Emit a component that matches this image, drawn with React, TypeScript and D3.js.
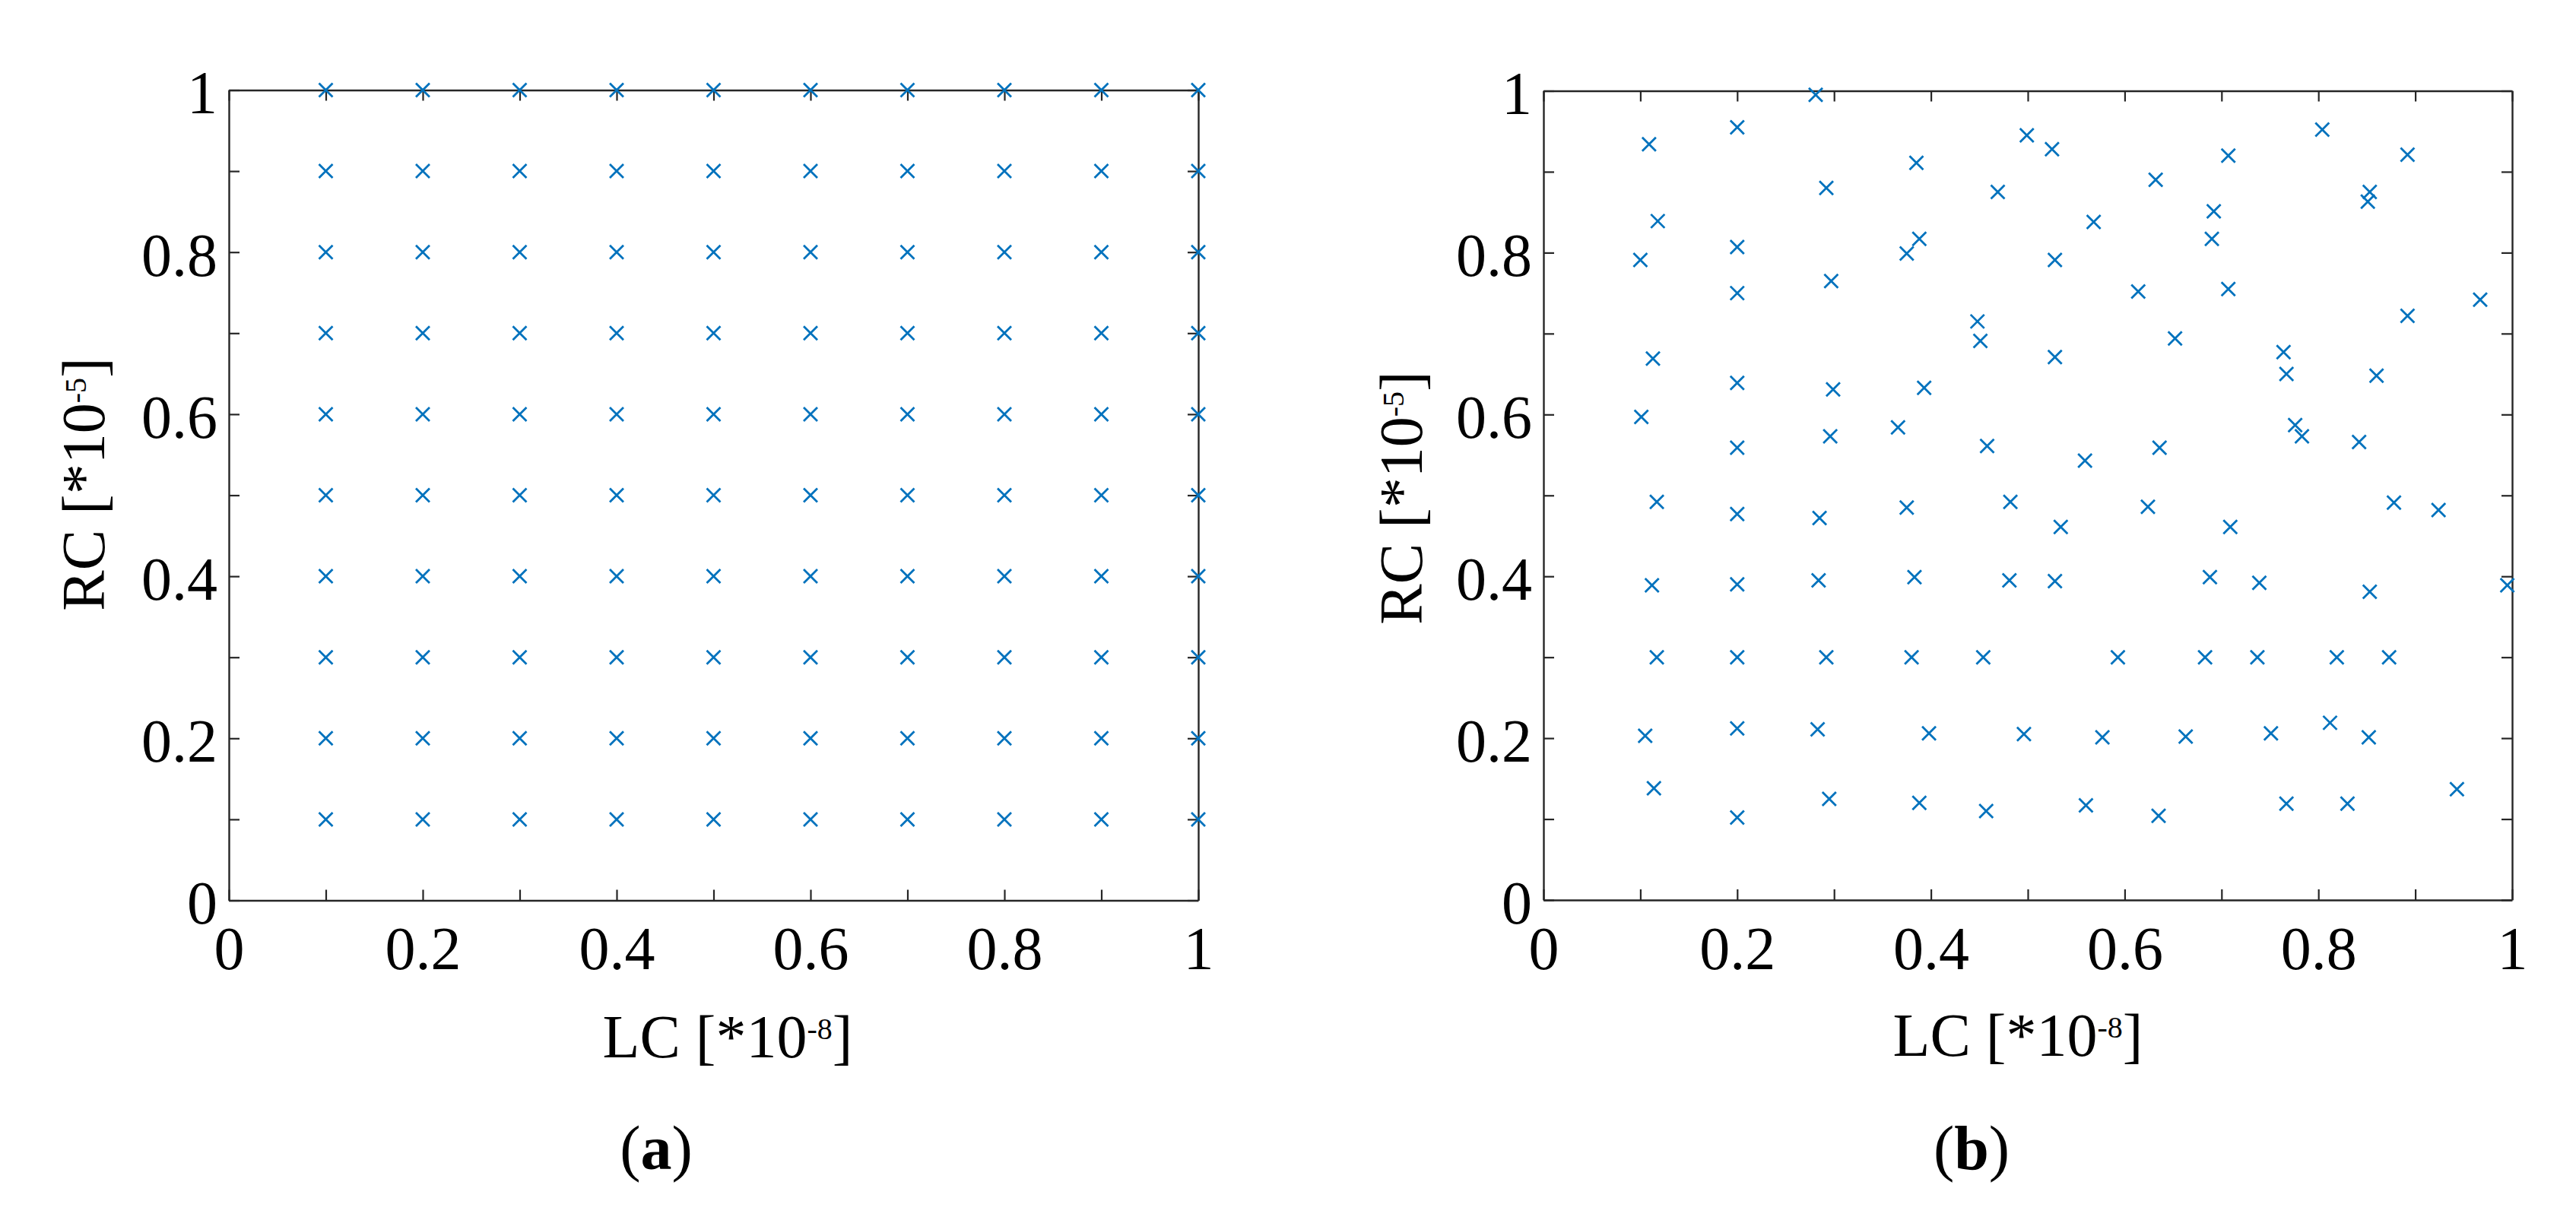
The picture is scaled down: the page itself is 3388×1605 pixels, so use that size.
import React, { useEffect, useRef } from "react"
import * as d3 from "d3"

// panel (a): full factorial grid
const gridLC = [0.1, 0.2, 0.3, 0.4, 0.5, 0.6, 0.7, 0.8, 0.9, 1.0]
const gridRC = [0.1, 0.2, 0.3, 0.4, 0.5, 0.6, 0.7, 0.8, 0.9, 1.0]

// panel (b): scattered samples
const randLC = [
  0.109, 0.2, 0.281, 0.385, 0.292, 0.469, 0.118, 0.2, 0.388, 0.375,
  0.100, 0.2, 0.297, 0.448, 0.451, 0.113, 0.2, 0.299, 0.393, 0.101,
  0.366, 0.296, 0.2, 0.458,
  0.499, 0.525, 0.707, 0.804, 0.892, 0.632, 0.853, 0.851, 0.692, 0.568,
  0.690, 0.528, 0.614, 0.707, 0.967, 0.892, 0.652, 0.528, 0.764, 0.767,
  0.860, 0.776, 0.783, 0.842, 0.636, 0.559,
  0.117, 0.2, 0.285, 0.375, 0.482, 0.112, 0.2, 0.284, 0.383, 0.481,
  0.117, 0.2, 0.292, 0.380, 0.454, 0.105, 0.2, 0.283, 0.398, 0.114,
  0.2, 0.295, 0.388, 0.457,
  0.534, 0.624, 0.709, 0.878, 0.924, 0.528, 0.688, 0.739, 0.853, 0.995,
  0.593, 0.683, 0.737, 0.819, 0.873, 0.496, 0.577, 0.663, 0.751, 0.812,
  0.852, 0.560, 0.635, 0.767, 0.830, 0.943,
]
const randRC = [
  0.934, 0.955, 0.995, 0.911, 0.880, 0.875, 0.839, 0.807, 0.817, 0.799,
  0.791, 0.750, 0.765, 0.715, 0.691, 0.669, 0.639, 0.631, 0.633, 0.597,
  0.584, 0.573, 0.559, 0.561,
  0.945, 0.928, 0.920, 0.952, 0.921, 0.890, 0.875, 0.863, 0.851, 0.838,
  0.817, 0.791, 0.752, 0.755, 0.742, 0.722, 0.694, 0.671, 0.677, 0.650,
  0.648, 0.587, 0.573, 0.566, 0.559, 0.543,
  0.492, 0.477, 0.472, 0.485, 0.492, 0.389, 0.390, 0.395, 0.399, 0.395,
  0.300, 0.300, 0.300, 0.300, 0.300, 0.203, 0.212, 0.211, 0.206, 0.138,
  0.102, 0.125, 0.120, 0.110,
  0.461, 0.486, 0.461, 0.491, 0.482, 0.394, 0.399, 0.392, 0.381, 0.389,
  0.300, 0.300, 0.300, 0.300, 0.300, 0.205, 0.201, 0.202, 0.206, 0.219,
  0.201, 0.117, 0.104, 0.119, 0.119, 0.137,
]

const tickVals = [0, 0.1, 0.2, 0.3, 0.4, 0.5, 0.6, 0.7, 0.8, 0.9, 1]
const tickLabels = ["0", "", "0.2", "", "0.4", "", "0.6", "", "0.8", "", "1"]

const W = 3388, H = 1605
const FONT = "'Liberation Serif', 'Times New Roman', serif"
const BLUE = "#0072BD"
const AXIS = "#262626"

const panels = [
  {
    id: "a", left: 301, right: 1576, top: 118.5, bottom: 1184.5,
    xs: gridLC.flatMap(() => []).concat(...gridLC.map(x => gridRC.map(() => x))),
    ys: [].concat(...gridLC.map(() => gridRC)),
    xlab: { x: 957, y: 1391 }, ylab: { x: 137, y: 637 }, cap: { x: 863, y: 1538 },
  },
  {
    id: "b", left: 2030, right: 3304, top: 119.5, bottom: 1184,
    xs: randLC, ys: randRC,
    xlab: { x: 2654, y: 1389 }, ylab: { x: 1870, y: 655 }, cap: { x: 2593, y: 1538 },
  },
]

export default function App() {
  const ref = useRef(null)

  useEffect(() => {
    const svg = d3.select(ref.current)
    svg.selectAll("*").remove()

    panels.forEach(p => {
      const x = d3.scaleLinear().domain([0, 1]).range([p.left, p.right])
      const y = d3.scaleLinear().domain([0, 1]).range([p.bottom, p.top])
      const g = svg.append("g")

      const fmt = (d, i) => tickLabels[i]
      const style = sel => {
        sel.select(".domain").attr("stroke", AXIS).attr("stroke-width", 2.4)
        sel.selectAll(".tick line").attr("stroke", AXIS).attr("stroke-width", 2.2)
        sel.selectAll("text").attr("fill", "#000").style("font-family", FONT).style("font-size", "80px")
      }

      g.append("g")
        .attr("transform", "translate(0," + p.bottom + ")")
        .call(d3.axisBottom(x).tickValues(tickVals).tickFormat(fmt).tickSize(-14).tickSizeOuter(0).tickPadding(34))
        .call(style)
      g.append("g")
        .attr("transform", "translate(0," + p.top + ")")
        .call(d3.axisTop(x).tickValues(tickVals).tickFormat(() => "").tickSize(-14).tickSizeOuter(0))
        .call(style)
      g.append("g")
        .attr("transform", "translate(" + p.left + ",0)")
        .call(d3.axisLeft(y).tickValues(tickVals).tickFormat(fmt).tickSize(-14).tickSizeOuter(0).tickPadding(15))
        .call(style)
        .selectAll("text").attr("dy", "0.38em")
      g.append("g")
        .attr("transform", "translate(" + p.right + ",0)")
        .call(d3.axisRight(y).tickValues(tickVals).tickFormat(() => "").tickSize(-14).tickSizeOuter(0))
        .call(style)

      g.selectAll(".mark")
        .data(p.xs.map((v, i) => [v, p.ys[i]]))
        .enter().append("path")
        .attr("class", "mark")
        .attr("transform", d => "translate(" + x(d[0]) + "," + y(d[1]) + ")")
        .attr("d", "M-9,-9L9,9M-9,9L9,-9")
        .attr("stroke", BLUE)
        .attr("stroke-width", 2.8)
        .attr("fill", "none")

      const xl = g.append("text")
        .attr("x", p.xlab.x).attr("y", p.xlab.y)
        .attr("text-anchor", "middle")
        .style("font-family", FONT).style("font-size", "80px")
      xl.append("tspan").text("LC [*10")
      xl.append("tspan").attr("dy", -24).style("font-size", "40px").text("-8")
      xl.append("tspan").attr("dy", 24).text("]")

      const yl = g.append("text")
        .attr("transform", "translate(" + p.ylab.x + "," + p.ylab.y + ") rotate(-90)")
        .attr("text-anchor", "middle")
        .style("font-family", FONT).style("font-size", "80px")
      yl.append("tspan").text("RC [*10")
      yl.append("tspan").attr("dy", -24).style("font-size", "40px").text("-5")
      yl.append("tspan").attr("dy", 24).text("]")

      const cap = g.append("text")
        .attr("x", p.cap.x).attr("y", p.cap.y)
        .attr("text-anchor", "middle")
        .style("font-family", FONT).style("font-size", "82px")
      cap.append("tspan").text("(")
      cap.append("tspan").style("font-weight", "bold").text(p.id)
      cap.append("tspan").text(")")
    })
  }, [])

  return (
    <svg ref={ref} width={W} height={H}
      style={{ position: "absolute", left: 0, top: 0, background: "#fff", display: "block" }} />
  )
}
